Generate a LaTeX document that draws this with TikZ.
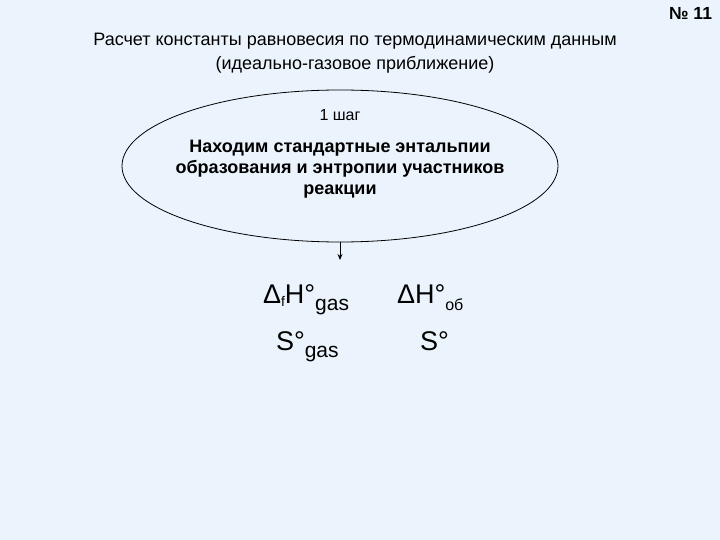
\documentclass[tikz,border=0pt]{standalone}
\usepackage{fontspec}
\setmainfont{Liberation Sans}
\usetikzlibrary{shapes.geometric,arrows.meta}
\definecolor{slidebg}{RGB}{235,244,252}
\tikzset{
	>={Stealth[length=6pt,width=5pt]},
	every node/.style={inner sep=0pt, outer sep=0pt},
	title/.style={font=\fontsize{18}{24}\selectfont, align=center},
	stepoval/.style={draw, ellipse, line width=0.8pt, minimum width=436pt, minimum height=152pt},
	steptext/.style={font=\bfseries\fontsize{18}{21}\selectfont, align=center},
	qty/.style={anchor=base west, font=\fontsize{27}{27}\selectfont},
}
\newcommand{\lowsub}[2][21]{\raisebox{-7pt}{\fontsize{#1}{#1}\selectfont #2}}
\newcommand{\fsub}{\raisebox{-3pt}{\fontsize{14}{14}\selectfont f}}

\begin{document}
\begin{tikzpicture}[x=1pt, y=-1pt]
	\fill[slidebg] (0,0) rectangle (720,540);
	\useasboundingbox (0,0) rectangle (720,540);

	\node[anchor=base east, font=\bfseries\fontsize{17.5}{17.5}\selectfont] (num) at (712,20) {№ 11};
	% base anchor = baseline of the last line
	\node[title, anchor=base] (head) at (355,70) {Расчет константы равновесия по термодинамическим данным\\(идеально-газовое приближение)};

	\node[stepoval] (oval) at (340,166) {};
	\node[anchor=base, font=\fontsize{16}{16}\selectfont] (step) at (340,121) {1 шаг};
	\node[steptext, anchor=base] (task) at (340,195) {Находим стандартные энтальпии\\образования и энтропии участников\\реакции};

	\coordinate (tip) at (340,260);
	\draw[->, line width=0.8pt] (oval.south) -- (tip);

	\node[qty] (hgas) at (263,303) {Δ\fsub H°\lowsub{gas}};
	\node[qty] (hob) at (397,303) {ΔH°\lowsub[16]{об}};
	\node[qty] (sgas) at (276,350) {S°\lowsub{gas}};
	\node[qty] (s) at (420,350) {S°};
\end{tikzpicture}
\end{document}
